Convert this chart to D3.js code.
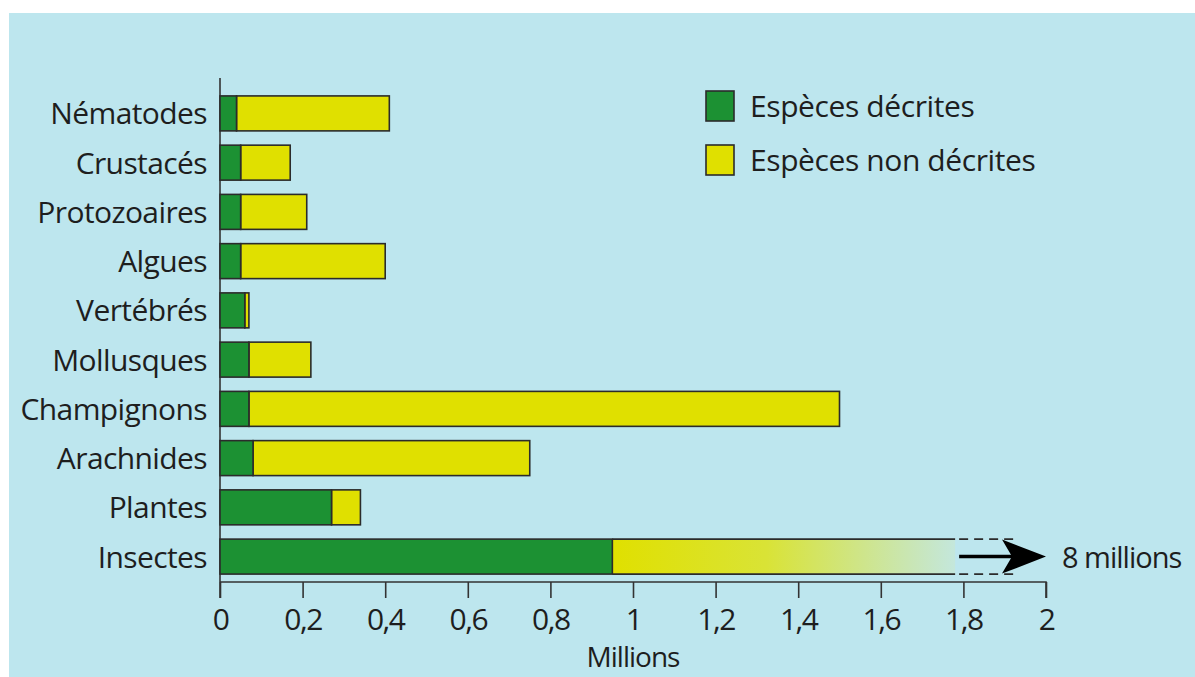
<!DOCTYPE html>
<meta charset="utf-8">
<style>
body { margin: 0; background: #fff; }
text { font-family: "Open Sans", sans-serif; fill: #1e1e1e; }
.bar { stroke: #2b2b2b; stroke-width: 1.6; }
.axis path, .axis line { stroke: #333; stroke-width: 1.6; }
</style>
<svg width="1195" height="677"></svg>
<script src="https://d3js.org/d3.v7.min.js"></script>
<script>

// species counts (millions)
var categories = ["Nématodes", "Crustacés", "Protozoaires", "Algues", "Vertébrés",
                  "Mollusques", "Champignons", "Arachnides", "Plantes", "Insectes"];
var described = [0.04, 0.05, 0.05, 0.05, 0.06, 0.07, 0.07, 0.08, 0.27, 0.95];
var undescribed = [0.37, 0.12, 0.16, 0.35, 0.01, 0.15, 1.43, 0.67, 0.07, 7.05];
var ticks = [0, 0.2, 0.4, 0.6, 0.8, 1, 1.2, 1.4, 1.6, 1.8, 2];
var legendLabels = ["Espèces décrites", "Espèces non décrites"];
var breakAt = 1.78;   // where the insect bar is cut
var dashEnd = 1.93;
var overflowLabel = "8 millions";

var green = "#1c9133", yellow = "#e0e000", bg = "#bde6ee";

var svg = d3.select("svg");
svg.append("rect").attr("x", 9).attr("y", 13).attr("width", 1195).attr("height", 677).attr("fill", bg);

var x = d3.scaleLinear().domain([0, 2]).range([220, 1046]);
var y = d3.scaleBand().domain(categories).range([91, 579]).paddingInner(0.29).paddingOuter(0.1);

var defs = svg.append("defs");
var grad = defs.append("linearGradient").attr("id", "fade")
    .attr("gradientUnits", "userSpaceOnUse")
    .attr("x1", x(described[9])).attr("x2", x(breakAt)).attr("y1", 0).attr("y2", 0);
grad.append("stop").attr("offset", "0%").attr("stop-color", yellow);
grad.append("stop").attr("offset", "45%").attr("stop-color", "#d9e336");
grad.append("stop").attr("offset", "100%").attr("stop-color", "#c4e7dc");

// axes
var xAxis = svg.append("g").attr("class", "axis")
    .attr("transform", "translate(0,582)")
    .call(d3.axisBottom(x).tickValues(ticks).tickSize(16).tickSizeOuter(0)
      .tickFormat(function(d) { return String(d).replace(".", ","); }));
xAxis.select(".domain").attr("d", "M" + x(0) + ",0H" + x(2) + "V16");
xAxis.selectAll("text").attr("y", 27).attr("font-size", 30).attr("fill", "#1e1e1e")
    .attr("font-family", "Open Sans").style("letter-spacing", "-1.5px");

svg.append("line").attr("x1", x(0)).attr("x2", x(0)).attr("y1", 78).attr("y2", 598)
    .attr("stroke", "#333").attr("stroke-width", 1.6);

svg.append("text").attr("x", x(1)).attr("y", 667).attr("text-anchor", "middle")
    .attr("font-size", 28).style("letter-spacing", "-1px").text("Millions");

// category labels
svg.selectAll(".cat").data(categories).enter().append("text")
    .attr("class", "cat")
    .attr("x", 207).attr("y", function(d) { return y(d) + y.bandwidth() / 2 + 11; })
    .attr("text-anchor", "end").attr("font-size", 30).style("letter-spacing", "-0.6px")
    .text(function(d) { return d; });

// bars
var rows = categories.map(function(c, i) {
  return { name: c, d: described[i], u: undescribed[i], last: i === categories.length - 1 };
});

rows.forEach(function(r) {
  var y0 = y(r.name), h = y.bandwidth();
  if (!r.last) {
    svg.append("rect").attr("class", "bar").attr("x", x(r.d)).attr("y", y0)
        .attr("width", x(r.d + r.u) - x(r.d)).attr("height", h).attr("fill", yellow);
    svg.append("rect").attr("class", "bar").attr("x", x(0)).attr("y", y0)
        .attr("width", x(r.d) - x(0)).attr("height", h).attr("fill", green);
  } else {
    svg.append("rect").attr("x", x(r.d)).attr("y", y0)
        .attr("width", x(breakAt) - x(r.d)).attr("height", h).attr("fill", "url(#fade)");
    svg.append("rect").attr("class", "bar").attr("x", x(0)).attr("y", y0)
        .attr("width", x(r.d) - x(0)).attr("height", h).attr("fill", green);
    [y0, y0 + h].forEach(function(yy) {
      svg.append("line").attr("x1", x(r.d)).attr("x2", x(breakAt)).attr("y1", yy).attr("y2", yy)
          .attr("stroke", "#2b2b2b").attr("stroke-width", 1.6);
      svg.append("line").attr("x1", x(breakAt) + 4).attr("x2", x(dashEnd)).attr("y1", yy).attr("y2", yy)
          .attr("stroke", "#2b2b2b").attr("stroke-width", 1.6).attr("stroke-dasharray", "9,6");
    });
    var my = y0 + h / 2;
    svg.append("line").attr("x1", x(breakAt) + 4).attr("x2", x(2) - 30).attr("y1", my).attr("y2", my)
        .attr("stroke", "#000").attr("stroke-width", 3.5);
    svg.append("path")
        .attr("d", "M" + (x(2) - 44) + "," + (my - 17) + "L" + x(2) + "," + my + "L" + (x(2) - 44) + "," + (my + 17) + "L" + (x(2) - 34) + "," + my + "Z")
        .attr("fill", "#000");
    svg.append("text").attr("x", x(2) + 16).attr("y", my + 11).attr("font-size", 29)
        .style("letter-spacing", "-1px").text(overflowLabel);
  }
});

// legend
var leg = svg.selectAll(".leg").data(legendLabels).enter().append("g")
    .attr("transform", function(d, i) { return "translate(706," + (91 + i * 54) + ")"; });
leg.append("rect").attr("width", 28).attr("height", 30)
    .attr("fill", function(d, i) { return i ? yellow : green; })
    .attr("stroke", "#2b2b2b").attr("stroke-width", 1.6);
leg.append("text").attr("x", 44).attr("y", 26).attr("font-size", 30)
    .style("letter-spacing", "-0.4px").text(function(d) { return d; });

</script>
